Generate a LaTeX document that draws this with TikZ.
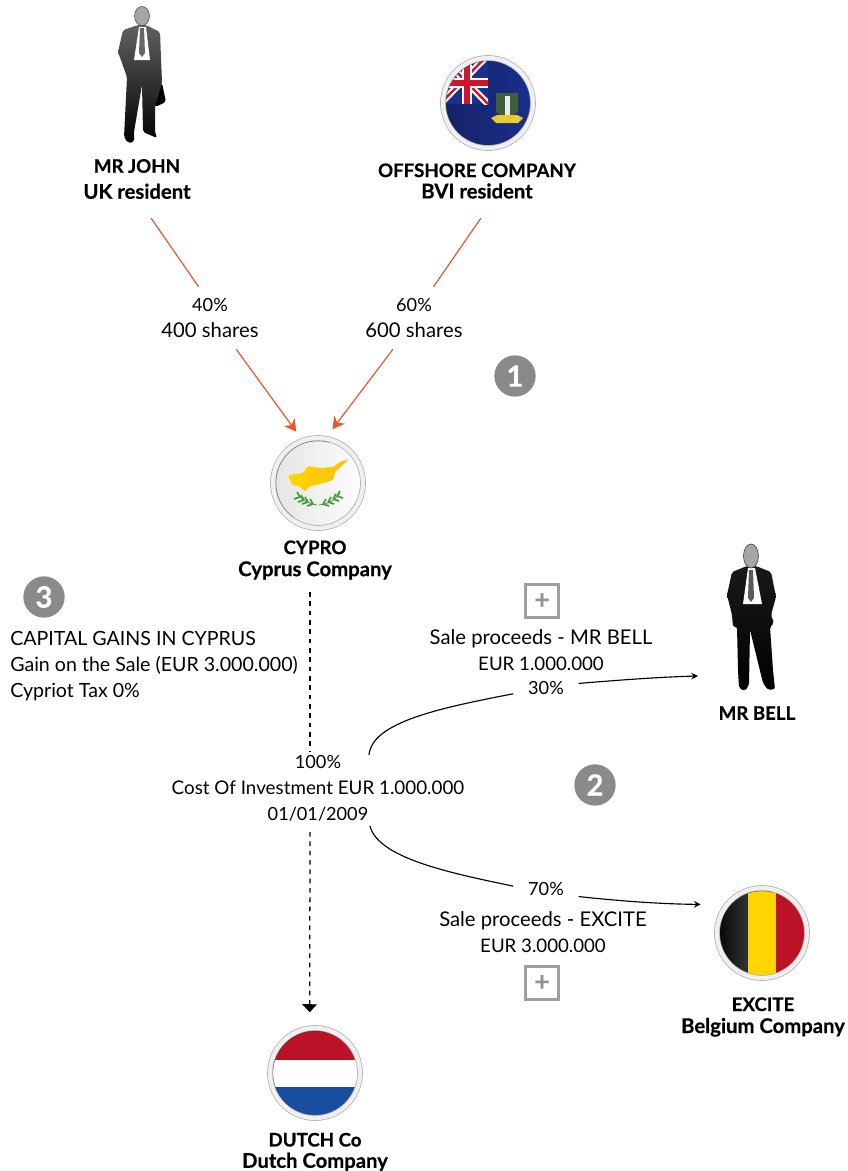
\documentclass[tikz,border=0pt]{standalone}
\usepackage{fontspec}
\setmainfont{Lato}[BoldFeatures={FakeBold=0.5}]
\usetikzlibrary{arrows.meta,calc}
\definecolor{ownline}{HTML}{E8572A}
\definecolor{badgegray}{HTML}{8A8A8A}
\definecolor{bviblue}{HTML}{1B2F8E}
\definecolor{ukred}{HTML}{D0142C}
\definecolor{leafgreen}{HTML}{3E9B2E}
\definecolor{flagyellow}{HTML}{FFD500}
\definecolor{shieldgreen}{HTML}{3F5F3C}
% lines with many small letters run a little larger
\newcommand{\lowerline}{\fontsize{15.2}{\baselineskip}\selectfont}
\tikzset{
    txt/.style={font=\fontsize{14.1}{19.5}\selectfont, align=center, inner sep=0pt},
    num/.style={font=\fontsize{13.6}{19.5}\selectfont, align=center, inner sep=0pt},
    bold/.style={font=\fontsize{14}{#1}\selectfont\bfseries, align=center, inner sep=0pt},
    pct/.style={num, inner xsep=11pt, minimum height=15pt},
    own/.style={draw=ownline, line width=.9pt},
    ownarrow/.style={own, -{Stealth[length=9pt,width=10pt]}},
    sale/.style={draw=black, line width=.85pt},
    salearrow/.style={sale, -{Stealth[length=5pt,width=5pt]}},
    holding/.style={draw=black, line width=.95pt, dash pattern=on 3.5pt off 3.5pt},
    flagdisc/.style={circle, minimum size=67.5pt, inner sep=0pt, outer sep=8pt,
        draw=gray!65, double=gray!12, double distance=3.2pt, line width=.55pt},
    badge/.style={circle, fill=badgegray, minimum size=31pt, inner sep=0pt, text=white,
        font=\fontsize{22}{22}\selectfont\bfseries},
    plusbox/.style={draw=gray!75, line width=1.8pt, minimum size=25pt, inner sep=0pt, text=gray!85,
        font=\fontsize{20}{20}\selectfont\bfseries},
    jacket/.style={top color=black!62, middle color=black!96, bottom color=black, rounded corners=1.5pt},
}
% dark inner edge of a disc, upper left
\newcommand{\flagrim}[1]{
    \draw[black, line width=.7pt] ([shift={(-75:42.5)}]#1) arc[start angle=-75, end angle=-235, radius=42.5];
}
\begin{document}
\begin{tikzpicture}[x=.75pt, y=-.75pt]
    \useasboundingbox (0,0) rectangle (847,1171);

    % Mr John
    \fill[black, rounded corners=2pt] (154,84) -- (162,83) -- (166,102) -- (155,107) -- cycle;
    \shade[jacket] (138,25) -- (123,30) -- (118,52) -- (127,77) -- (125,117) -- (124,137) -- (128,143) -- (134,142)
        -- (134,132) -- (142,85) -- (143,132) -- (157,138) -- (155,132) -- (155,107) -- (162,83)
        -- (160,32) -- (146,25) -- cycle;
    \fill[white] (139,27) -- (134,60) -- (150,60) -- (146,27) -- cycle;
    \fill[black!60] (140,28) -- (144,28) -- (145,53) -- (142,57) -- (139,53) -- cycle;
    \draw[black!70, fill=gray!70] (142,16) ellipse (7.5 and 9.5);

    % Mr Bell
    \shade[jacket, top color=black!90] (747,566) -- (732,572) -- (727,595) -- (732,615) -- (733,627) -- (737,627) -- (738,670)
        -- (739,688) -- (745,691) -- (749,685) -- (750,630) -- (763,683) -- (768,690) -- (775,689) -- (773,670)
        -- (770,627) -- (774,623) -- (771,615) -- (776,597) -- (771,572) -- (756,566) -- cycle;
    \fill[white] (748,568) -- (743,604) -- (762,604) -- (755,568) -- cycle;
    \fill[black!65] (749,570) -- (753,570) -- (754,598) -- (751,602) -- (748,598) -- cycle;
    \draw[black!80, fill=gray!70] (751,556) ellipse (7.5 and 12);

    % BVI flag
    \coordinate (bvic) at (488,103);
    \begin{scope}
        \clip (bvic) circle (43);
        \shade[left color=bviblue!70!black, right color=bviblue] (440,55) rectangle (536,151);
        \begin{scope}
            \clip (440,55) rectangle (488,104);
            \fill[bviblue] (440,55) rectangle (488,104);
            \draw[white, line width=5pt] (440,55) -- (488,104) (440,104) -- (488,55);
            \draw[ukred, line width=1.8pt] (440,55) -- (488,104) (440,104) -- (488,55);
            \draw[white, line width=7pt] (467,55) -- (467,104) (440,83) -- (488,83);
            \draw[ukred, line width=4pt] (467,55) -- (467,104) (440,83) -- (488,83);
        \end{scope}
        \fill[shieldgreen] (496,93) -- (518,93) -- (518,112) -- (507,119) -- (496,112) -- cycle;
        \fill[gray!15] (505,96) rectangle (510,116);
        \fill[yellow!60!brown] (491,118) -- (497,115) -- (517,115) -- (523,118) -- (518,123) -- (496,123) -- cycle;
    \end{scope}
    \flagrim{bvic}
    \node (bvi) [flagdisc] at (bvic) {};

    % Cyprus flag
    \coordinate (cyprusc) at (318,483);
    \begin{scope}
        \clip (cyprusc) circle (43);
        \shade[left color=gray!22, right color=white] (270,435) rectangle (366,531);
        \shade[left color=flagyellow, right color=orange!50!yellow, rounded corners=1pt] (288,475) -- (303,473) -- (308,466) -- (320,468) -- (333,467)
            -- (340,462) -- (349,459) -- (335,472) -- (333,480) -- (323,483) -- (308,487) -- (306,492)
            -- (299,486) -- (292,485) -- cycle;
        \draw[leafgreen, line width=.6pt] (317,505) .. controls (310,504) and (303,501) .. (298,494);
        \draw[leafgreen, line width=.6pt] (319,505) .. controls (328,504) and (335,500) .. (340,493);
        \foreach \px/\py in {313/504, 308/502, 304/500, 300/497}
            \draw[leafgreen, line width=1.2pt] (\px,\py) -- ++(-3,-5) (\px,\py) -- ++(-6,2);
        \foreach \px/\py in {323/504, 328/502, 333/499, 337/496}
            \draw[leafgreen, line width=1.2pt] (\px,\py) -- ++(3,-5) (\px,\py) -- ++(6,2);
    \end{scope}
    \flagrim{cyprusc}
    \node (cypro) [flagdisc] at (cyprusc) {};

    % Belgian flag
    \coordinate (belgiumc) at (762,933);
    \begin{scope}
        \clip (belgiumc) circle (43);
        \shade[left color=black, right color=black!80] (714,885) rectangle (748,981);
        \fill[flagyellow] (748,885) rectangle (776,981);
        \fill[ukred!90!black] (776,885) rectangle (810,981);
    \end{scope}
    \flagrim{belgiumc}
    \node (excite) [flagdisc, outer sep=17pt] at (belgiumc) {};

    % Dutch flag
    \coordinate (dutchc) at (315,1073);
    \begin{scope}
        \clip (dutchc) circle (43);
        \fill[ukred!90!black] (267,1025) rectangle (363,1060);
        \fill[white] (267,1060) rectangle (363,1087);
        \fill[bviblue!85!cyan] (267,1087) rectangle (363,1121);
    \end{scope}
    \flagrim{dutchc}
    \node (dutch) [flagdisc, outer sep=12pt] at (dutchc) {};

    % names under the pictures
    \node (johntxt) [bold=19.5] at (137,179) {MR JOHN\\\lowerline UK resident};
    \node (bvitxt) [bold=16] at (477,181) {OFFSHORE COMPANY\\\lowerline BVI resident};
    \node (cyprotxt) [bold=16.5] at (315,560) {CYPRO\\\lowerline Cyprus Company};
    \node (belltxt) [bold=16] at (757,713) {MR BELL};
    \node (excitetxt) [bold=16.5] at (763,1017) {EXCITE\\\lowerline Belgium Company};
    \node (dutchtxt) [bold=16] at (315,1152) {DUTCH Co\\\lowerline Dutch Company};

    % shares
    \node (pct40) [num, minimum height=46.5pt] at (210,318) {40\%\\\lowerline 400 shares};
    \node (pct60) [num, minimum height=46.5pt] at (414,318) {60\%\\\lowerline 600 shares};

    % texts
    \node (gains) [txt, font=\fontsize{14.7}{19.5}\selectfont, anchor=west, align=left] at (10,666) {CAPITAL GAINS IN CYPRUS\\Gain on the Sale (EUR 3.000.000)\\Cypriot Tax 0\%};
    \node (pct100) [num, inner ysep=3pt] at (318,762) {100\%};
    \node (cost) [txt] at (318,788) {Cost Of Investment EUR 1.000.000};
    \node (date) [num, inner ysep=8pt] at (318,814) {01/01/2009};
    \node (bellsale) [txt] at (541,650) {\lowerline Sale proceeds - MR BELL\\\fontsize{14}{\baselineskip}\selectfont EUR 1.000.000};
    \node (pct30) [pct] at (546,688) {30\%};
    \node (pct70) [pct] at (546,889) {70\%};
    \node (excitesale) [txt] at (543,932) {\lowerline Sale proceeds - EXCITE\\\fontsize{14}{\baselineskip}\selectfont EUR 3.000.000};

    % numbers and plus boxes
    \node (one) [badge] at (515,376) {1};
    \node (two) [badge] at (595,785) {2};
    \node (three) [badge] at (44,597) {3};
    \node (plusbell) [plusbox] at (542,601) {+};
    \node (plusexcite) [plusbox] at (542,983) {+};

    % free ends
    \coordinate (johnout) at (151,218);
    \coordinate (bviout) at (481,218);
    \coordinate (dashtop) at (310,592);
    \coordinate (upstart) at (369,755);
    \coordinate (downstart) at (370,826);
    \coordinate (bellin) at (698,676);

    % shareholding
    \draw[own] (johnout) -- (pct40.110);
    \draw[own] (bviout) -- (pct60.58);
    \draw[ownarrow] (pct40.-50) -- (cypro.113);
    \draw[ownarrow] (pct60.-124) -- (cypro.75);

    % down to the Dutch company
    \draw[holding] (dashtop) -- (dashtop |- pct100.north);
    \draw[holding, -{Triangle[length=6pt,width=11pt]}] (date.south -| dashtop) -- (dutch.95);

    % sales
    \draw[sale] (upstart) .. controls (372,722) and (440,708) .. (pct30.190);
    \draw[salearrow] (pct30.8) .. controls (620,680) and (660,677) .. (bellin);
    \draw[sale] (downstart) .. controls (378,858) and (450,873) .. (pct70.175);
    \draw[salearrow] (pct70.-13) .. controls (620,901) and (660,904) .. (excite.155);
\end{tikzpicture}
\end{document}
